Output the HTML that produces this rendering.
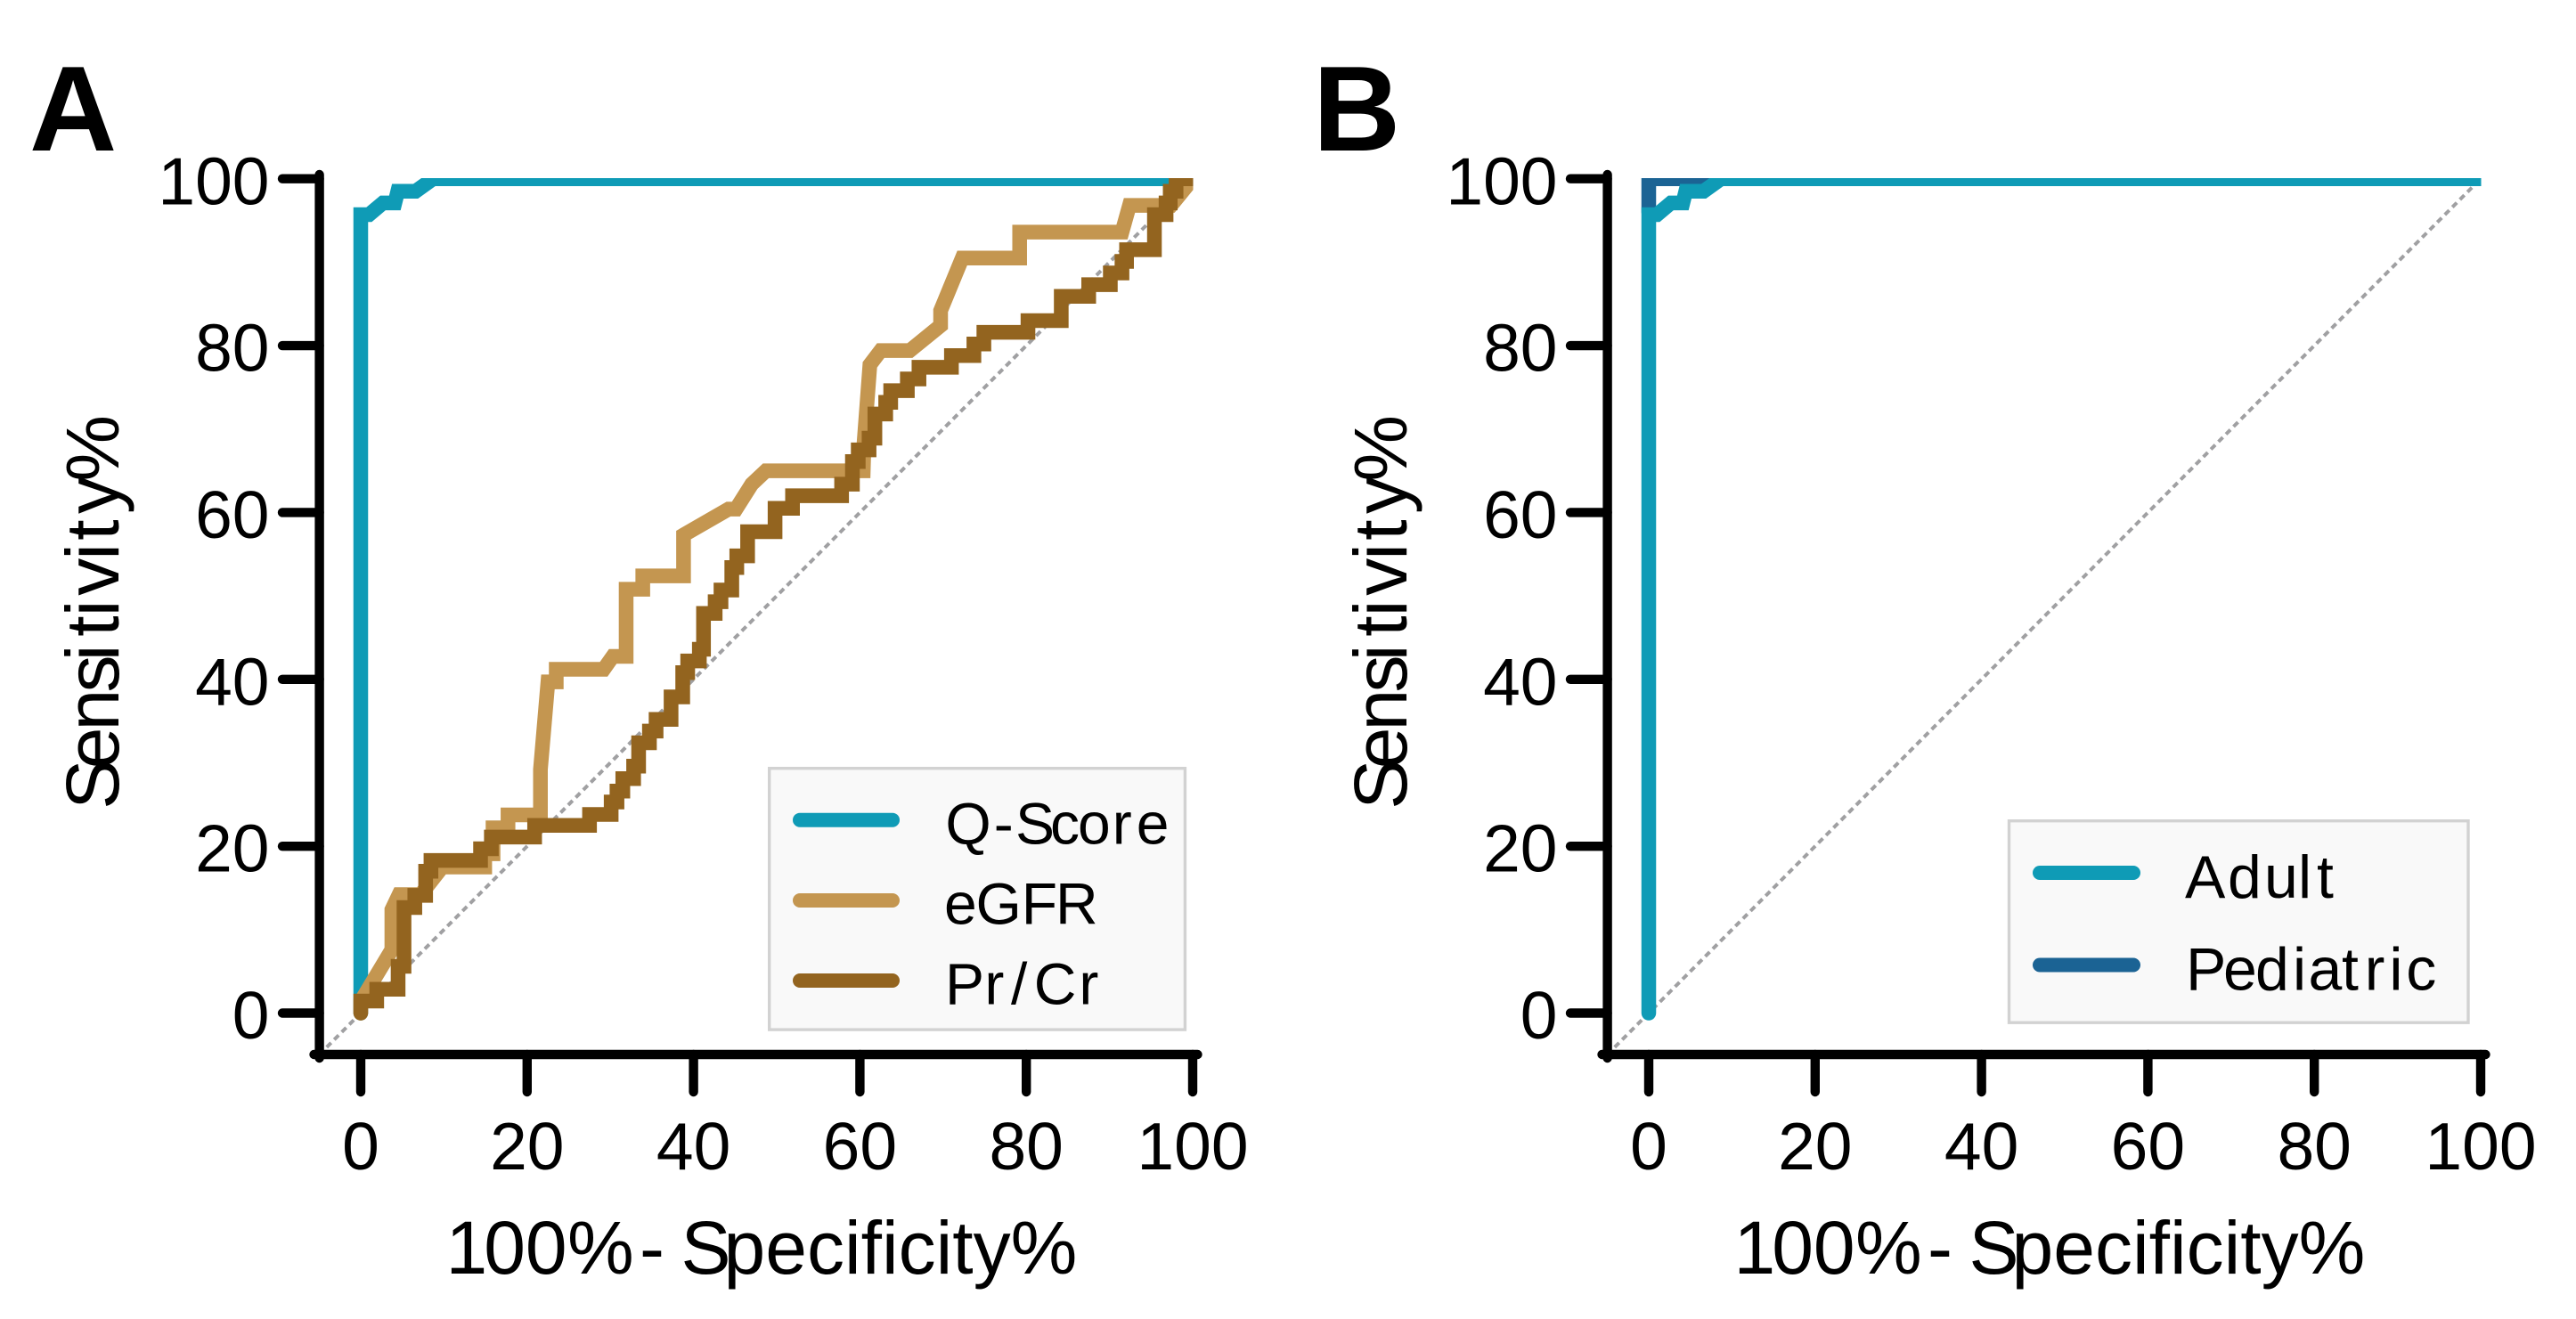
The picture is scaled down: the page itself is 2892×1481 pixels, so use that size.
<!DOCTYPE html>
<html lang="en">
<head>
<meta charset="utf-8">
<title>ROC curves</title>
<style>
html,body{margin:0;padding:0;background:#fff;width:2892px;height:1481px;overflow:hidden}
svg{display:block}
text{font-family:"Liberation Sans",Arial,sans-serif;fill:#000}
.tick{font-size:75px}
.title{font-size:84px}
.leg{font-size:66px}
.letter{font-size:136px;font-weight:700}
</style>
</head>
<body>
<svg id="chart" xmlns="http://www.w3.org/2000/svg" width="2892" height="1481" viewBox="0 0 2892 1481">
  <rect width="2892" height="1481" fill="#fff"/>
  <defs>
    <clipPath id="plot-clip"><rect x="0" y="200" width="1339.5" height="1100"/></clipPath>
  </defs>

  <g id="panel-a">
    <text class="letter" x="33" y="169">A</text>
    <g id="a-marks" clip-path="url(#plot-clip)"></g>
    <g id="a-axes"></g>
    <text class="title" transform="translate(133,908.8) rotate(-90)" x="0 45.4 88.3 131.3 166.6 194.1 216.6 240 280 302.1 331.8 368">Sensitivity%</text>
    <text class="title" y="1430"><tspan x="500.5 543.2 589.9 637">100%</tspan> <tspan x="718">-</tspan> <tspan x="764.5">S</tspan><tspan dx="-8">pecificity%</tspan></text>
    <g>
      <rect x="863.7" y="862.7" width="466.7" height="293.4" fill="#f9f9f9" stroke="#d2d2d2" stroke-width="3.4"/>
      <line x1="898" x2="1002" y1="920.7" y2="920.7" stroke="#0f9bb6" stroke-width="16" stroke-linecap="round"/>
      <line x1="898" x2="1002" y1="1011" y2="1011" stroke="#c49650" stroke-width="16" stroke-linecap="round"/>
      <line x1="898" x2="1002" y1="1101" y2="1101" stroke="#93641f" stroke-width="16" stroke-linecap="round"/>
      <text class="leg" y="947.3" x="1061.4 1115.7 1140 1179 1210 1248.7 1275.7">Q-Score</text>
      <text class="leg" y="1037.3" x="1060 1095.5 1146.7 1185">eGFR</text>
      <text class="leg" y="1127.3" x="1061 1105.4 1135 1160.7 1211.4">Pr/Cr</text>
    </g>
  </g>

  <g id="panel-b">
    <text class="letter" x="1474" y="169">B</text>
    <g transform="translate(1446,0)">
      <g id="b-marks" clip-path="url(#plot-clip)"></g>
      <g id="b-axes"></g>
      <text class="title" transform="translate(133,908.8) rotate(-90)" x="0 45.4 88.3 131.3 166.6 194.1 216.6 240 280 302.1 331.8 368">Sensitivity%</text>
      <text class="title" y="1430"><tspan x="500.5 543.2 589.9 637">100%</tspan> <tspan x="718">-</tspan> <tspan x="764.5">S</tspan><tspan dx="-8">pecificity%</tspan></text>
    </g>
    <g>
      <rect x="2255.5" y="921.7" width="515.5" height="226.5" fill="#f9f9f9" stroke="#d2d2d2" stroke-width="3.4"/>
      <line x1="2290" x2="2395" y1="980" y2="980" stroke="#0f9bb6" stroke-width="16" stroke-linecap="round"/>
      <line x1="2290" x2="2395" y1="1083.5" y2="1083.5" stroke="#1b6394" stroke-width="16" stroke-linecap="round"/>
      <text class="leg" style="font-size:68px" y="1008" x="2453 2501 2542 2580 2601">Adult</text>
      <text class="leg" style="font-size:68px" y="1111.5" x="2454 2496 2532 2574 2591.5 2629 2654.7 2682.4 2701.3">Pediatric</text>
    </g>
  </g>
</svg>

<script>
// Axis tick values and labels
const xTicks = [0, 20, 40, 60, 80, 100];
const yTicks = [0, 20, 40, 60, 80, 100];
const diagonalEnds = [-5, 100];

// Panel A: Q-Score polyline (100% - specificity, sensitivity)
const qScoreX = [0, 0, 1, 2.67, 4.1, 4.45, 6.6, 8.7, 100];
const qScoreY = [0, 95.7, 95.7, 97.1, 97.1, 98.5, 98.5, 100, 100];

// Panel A: eGFR polyline
const egfrX = [0, 0, 3.74, 3.74, 4.6, 7.2, 9.8, 14.9, 14.9, 15.9, 15.9, 17.7, 17.7, 21.6, 21.6, 22.5, 23.5, 23.5, 29.2, 30.3, 31.9, 31.9, 33.9, 33.9, 38.8, 38.8, 44.2, 45.1, 47, 48.7, 60.4, 60.5, 61.2, 62.5, 66, 69.7, 69.7, 72.3, 79.2, 79.2, 91.5, 92.4, 97.4, 100];
const egfrY = [0, 1.4, 7.6, 12.4, 14.2, 14.2, 17.5, 17.5, 19.1, 19.1, 22.2, 22.2, 23.75, 23.75, 29.2, 39.7, 39.7, 41.2, 41.2, 42.75, 42.75, 50.8, 50.8, 52.4, 52.4, 57.3, 60.4, 60.4, 63.4, 65, 65, 68.4, 77.7, 79.4, 79.4, 82.4, 84.2, 90.5, 90.5, 93.6, 93.6, 96.8, 96.8, 100];

// Panel A: Pr/Cr staircase. Each level is a sensitivity and the x where that level ends.
const prCrLevelY = [1.44, 2.86, 5.6, 12.65, 14.1, 17, 18.3, 19.7, 21.1, 22.5, 23.8, 25.3, 26.6, 28.1, 29.6, 32.4, 33.8, 35.2, 37.9, 40.8, 42.2, 43.6, 47.9, 49.3, 50.7, 53.4, 54.8, 57.7, 60.5, 62, 63.4, 66.1, 67.5, 68.9, 71.8, 73.2, 74.6, 76, 77.4, 78.8, 80.2, 81.6, 83, 85.9, 87.3, 88.7, 90.1, 91.5, 95.7, 97.1, 98.5, 100];
const prCrLevelEndX = [1.92, 4.49, 5.2, 6.5, 7.8, 8.44, 14.4, 15.7, 20.9, 27.5, 30.1, 30.8, 31.5, 32.8, 33.4, 34.7, 35.5, 37.3, 38.7, 39.3, 40.7, 41.2, 42.6, 43.3, 44.6, 45.2, 46.5, 49.8, 51.9, 57.8, 59.1, 59.8, 61.1, 61.8, 63.1, 63.7, 65.7, 67.1, 71, 73.7, 74.9, 80.2, 84.2, 87.5, 90.1, 91.5, 92.05, 95.4, 96.8, 97.3, 98, 100];

// Panel B: Adult and Pediatric polylines
const adultX = [0, 0, 1, 2.67, 4.1, 4.45, 6.6, 8.7, 100];
const adultY = [0, 95.7, 95.7, 97.1, 97.1, 98.5, 98.5, 100, 100];
const pediatricX = [0, 0, 100];
const pediatricY = [96, 100, 100];

const NS = 'http://www.w3.org/2000/svg';
function xScale(v) { return 405 + 9.34 * v; }
function yScale(v) { return 1137.5 - 9.368 * v; }

function polyPath(xs, ys) {
  return xs.map(function (x, i) {
    return (i ? 'L' : 'M') + xScale(x).toFixed(2) + ' ' + yScale(ys[i]).toFixed(2);
  }).join('');
}
function stairPath(levels, ends) {
  let d = 'M' + xScale(0).toFixed(2) + ' ' + yScale(0).toFixed(2);
  let cx = 0;
  levels.forEach(function (lv, i) {
    d += 'L' + xScale(cx).toFixed(2) + ' ' + yScale(lv).toFixed(2);
    cx = ends[i];
    d += 'L' + xScale(cx).toFixed(2) + ' ' + yScale(lv).toFixed(2);
  });
  return d;
}
function addCurve(parent, d, color, name) {
  const p = document.createElementNS(NS, 'path');
  p.setAttribute('d', d);
  p.setAttribute('fill', 'none');
  p.setAttribute('stroke', color);
  p.setAttribute('stroke-width', '16.5');
  p.setAttribute('stroke-linecap', 'round');
  p.setAttribute('stroke-linejoin', 'miter');
  p.setAttribute('stroke-miterlimit', '3');
  
  
  parent.appendChild(p);
}
function addDiagonal(parent) {
  const l = document.createElementNS(NS, 'line');
  l.setAttribute('x1', xScale(diagonalEnds[0]));
  l.setAttribute('y1', yScale(diagonalEnds[0]));
  l.setAttribute('x2', xScale(diagonalEnds[1]));
  l.setAttribute('y2', yScale(diagonalEnds[1]));
  l.setAttribute('stroke', '#a0a0a2');
  l.setAttribute('stroke-width', '4');
  l.setAttribute('stroke-dasharray', '7 5');
  
  
  parent.appendChild(l);
}
function addRule(parent, x1, y1, x2, y2, name) {
  const l = document.createElementNS(NS, 'line');
  l.setAttribute('x1', x1);
  l.setAttribute('y1', y1);
  l.setAttribute('x2', x2);
  l.setAttribute('y2', y2);
  l.setAttribute('stroke', '#000');
  l.setAttribute('stroke-width', '10.4');
  l.setAttribute('stroke-linecap', 'round');
  
  
  parent.appendChild(l);
}
function addTickLabel(parent, x, y, anchor, value, name) {
  const t = document.createElementNS(NS, 'text');
  t.setAttribute('class', 'tick');
  t.setAttribute('x', x);
  t.setAttribute('y', y);
  t.setAttribute('text-anchor', anchor);
  
  
  t.textContent = String(value);
  parent.appendChild(t);
}
function drawAxes(parent) {
  addRule(parent, 358.6, 196, 358.6, 1188, 'y-axis-line');
  addRule(parent, 352.5, 1184, 1344.5, 1184, 'x-axis-line');
  yTicks.forEach(function (v) {
    addRule(parent, 317, yScale(v), 358.6, yScale(v), 'y-tick-' + v);
    addTickLabel(parent, 302.5, yScale(v) + 28.6, 'end', v, 'y-tick-label-' + v);
  });
  xTicks.forEach(function (v) {
    addRule(parent, xScale(v), 1184, xScale(v), 1226, 'x-tick-' + v);
    addTickLabel(parent, xScale(v), 1313, 'middle', v, 'x-tick-label-' + v);
  });
}

const aMarks = document.getElementById('a-marks');
addDiagonal(aMarks);
addCurve(aMarks, polyPath(qScoreX, qScoreY), '#0f9bb6', 'q-score-curve');
addCurve(aMarks, polyPath(egfrX, egfrY), '#c49650', 'egfr-curve');
addCurve(aMarks, stairPath(prCrLevelY, prCrLevelEndX), '#93641f', 'pr-cr-curve');
drawAxes(document.getElementById('a-axes'));

const bMarks = document.getElementById('b-marks');
addDiagonal(bMarks);
addCurve(bMarks, polyPath(pediatricX, pediatricY), '#1b6394', 'pediatric-curve');
addCurve(bMarks, polyPath(adultX, adultY), '#0f9bb6', 'adult-curve');
drawAxes(document.getElementById('b-axes'));
</script>
</body>
</html>
